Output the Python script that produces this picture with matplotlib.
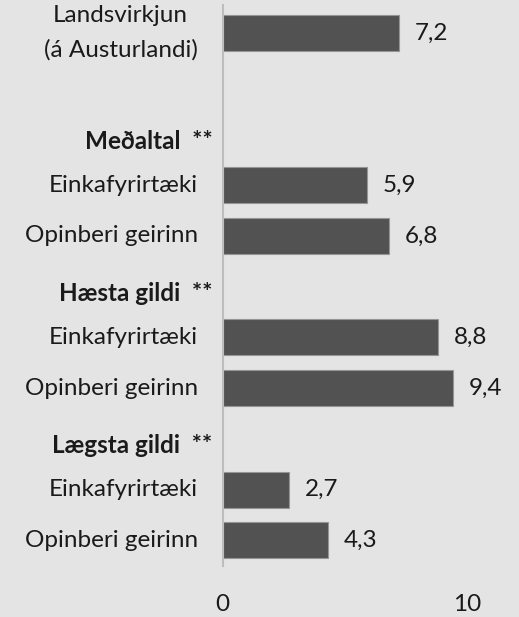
import numpy as np
import matplotlib.pyplot as plt
from matplotlib import rcParams

rcParams['font.family'] = ['Lato', 'DejaVu Sans']

# rows top to bottom; None = no bar (spacer or header row)
labels = ['Landsvirkjun\n(á Austurlandi)', '', 'Meðaltal  **', 'Einkafyrirtæki', 'Opinberi geirinn',
          'Hæsta gildi  **', 'Einkafyrirtæki', 'Opinberi geirinn',
          'Lægsta gildi  **', 'Einkafyrirtæki', 'Opinberi geirinn']
values = [7.2, None, None, 5.9, 6.8, None, 8.8, 9.4, None, 2.7, 4.3]
is_header = [False, False, True, False, False, True, False, False, True, False, False]
xticks = [0, 10]

bg = '#e4e4e4'
fs = 17.5
fig = plt.figure(figsize=(5.19, 6.17), dpi=100, facecolor=bg)
ax = fig.add_axes([0.429, 0.083, 0.542, 0.909])
ax.set_facecolor(bg)

ypos = np.arange(len(labels))
for y, v in zip(ypos, values):
    if v is None:
        continue
    ax.barh(y, v, height=0.71, color='#525252', edgecolor='#959595', linewidth=0.8)
    ax.annotate(f'{v:.1f}'.replace('.', ','), xy=(v, y), xytext=(16, 0),
                textcoords='offset pixels', ha='left', va='center', fontsize=fs, color='#1a1a1a')

for y, lab, h in zip(ypos, labels, is_header):
    if not lab:
        continue
    # header rows sit a little lower than the row centre
    ax.annotate(lab, xy=(0, y), xycoords=('axes fraction', 'data'),
                xytext=(-10, -7) if h else (-25, 0), textcoords='offset pixels',
                ha='right', va='center', multialignment='center', fontsize=fs,
                fontweight='bold' if h else 'normal', color='#1a1a1a',
                linespacing=1.75)

ax.set_xlim(0, 11.5)
ax.set_ylim(10.5, -0.55)
ax.set_yticks([])
ax.set_xticks(xticks)
ax.set_xticklabels([str(t) for t in xticks], fontsize=fs, color='#1a1a1a')
ax.tick_params(axis='x', length=0, pad=20)
for s in ['top', 'right', 'bottom']:
    ax.spines[s].set_visible(False)
ax.spines['left'].set_color('#bdbdbd')
ax.spines['left'].set_linewidth(1.5)

fig.savefig('out.png', dpi=100, facecolor=bg)
